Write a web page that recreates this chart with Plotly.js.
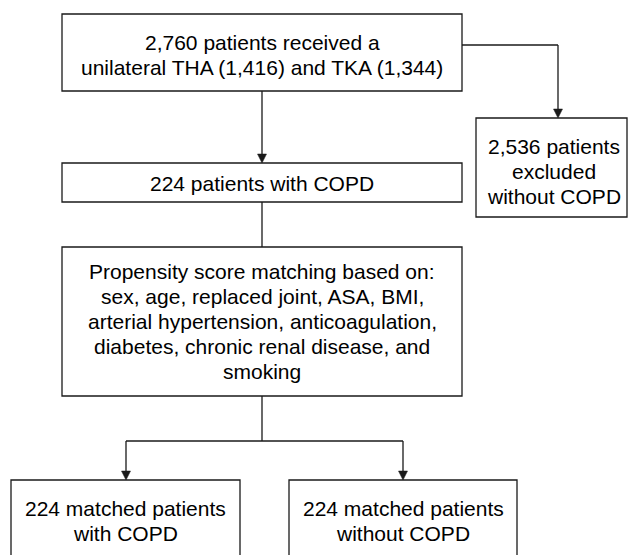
<!DOCTYPE html>
<html>
<head>
<meta charset="utf-8">
<script src="https://cdn.plot.ly/plotly-3.0.1.min.js"></script>
<style>
  html, body { margin: 0; padding: 0; background: #ffffff; }
  #chart { width: 628px; height: 555px; }
</style>
</head>
<body>
<div id="chart"></div>
<script>
// ---- Flowchart text (data) ----
const enrolledLines = ["2,760 patients received a", "unilateral THA (1,416) and TKA (1,344)"];
const copdLines = ["224 patients with COPD"];
const excludedLines = ["2,536 patients", "excluded", "without COPD"];
const matchingLines = [
  "Propensity score matching based on:",
  "sex, age, replaced joint, ASA, BMI,",
  "arterial hypertension, anticoagulation,",
  "diabetes, chronic renal disease, and",
  "smoking"
];
const matchedCopdLines = ["224 matched patients", "with COPD"];
const matchedNoCopdLines = ["224 matched patients", "without COPD"];

// ---- Layout geometry (pixel-like coordinates) ----
const boxes = [
  {lines: enrolledLines,     x0: 62,  x1: 462, y0: 14,  y1: 91,  cx: 262,   cy: 54.5},
  {lines: copdLines,         x0: 62,  x1: 462, y0: 163, y1: 202, cx: 262,   cy: 183},
  {lines: excludedLines,     x0: 476, x1: 627, y0: 118, y1: 217, cx: 553.5, cy: 171},
  {lines: matchingLines,     x0: 62,  x1: 462, y0: 247, y1: 396, cx: 262,   cy: 321.5},
  {lines: matchedCopdLines,  x0: 11,  x1: 240, y0: 480, y1: 570, cx: 125.5, cy: 520.5},
  {lines: matchedNoCopdLines,x0: 289, x1: 517, y0: 480, y1: 570, cx: 403,   cy: 520.5}
];
const lineGap = 25;
const strokeColor = "#1a1a1a";
const strokeW = 1.3;

const shapes = [];
const annotations = [];

boxes.forEach(b => {
  shapes.push({type: "rect", xref: "x", yref: "y", x0: b.x0, x1: b.x1, y0: b.y0, y1: b.y1,
    line: {color: strokeColor, width: strokeW}, fillcolor: "rgba(0,0,0,0)"});
  const n = b.lines.length;
  b.lines.forEach((t, i) => {
    annotations.push({xref: "x", yref: "y", x: b.cx, y: b.cy + (i - (n - 1) / 2) * lineGap,
      text: t, showarrow: false, xanchor: "center", yanchor: "middle",
      font: {family: "Liberation Sans, Arial, sans-serif", size: 21, color: "#000000"}});
  });
});

function seg(x0, y0, x1, y1) {
  shapes.push({type: "line", xref: "x", yref: "y", x0: x0, y0: y0, x1: x1, y1: y1,
    line: {color: strokeColor, width: strokeW}});
}
function arrowHead(x, yTip) {
  shapes.push({type: "path", xref: "x", yref: "y",
    path: `M ${x - 4.5},${yTip - 9} L ${x + 4.5},${yTip - 9} L ${x},${yTip} Z`,
    fillcolor: strokeColor, line: {color: strokeColor, width: 0.5}});
}

// enrolled -> COPD
seg(262, 91, 262, 156); arrowHead(262, 163);
// enrolled -> excluded
seg(462, 45, 558, 45); seg(558, 45, 558, 110); arrowHead(558, 118);
// COPD -> matching
seg(262, 202, 262, 247);
// matching -> split
seg(262, 396, 262, 441);
seg(126, 441, 403, 441);
seg(126, 441, 126, 472); arrowHead(126, 480);
seg(403, 441, 403, 472); arrowHead(403, 480);

const layout = {
  width: 628, height: 555,
  margin: {l: 0, r: 0, t: 0, b: 0},
  paper_bgcolor: "#ffffff", plot_bgcolor: "#ffffff",
  xaxis: {range: [0, 628], visible: false, fixedrange: true},
  yaxis: {range: [555, 0], visible: false, fixedrange: true},
  showlegend: false,
  shapes: shapes,
  annotations: annotations
};

Plotly.newPlot("chart", [{x: [], y: [], type: "scatter", mode: "markers", hoverinfo: "skip"}], layout,
  {displayModeBar: false, staticPlot: true});
</script>
</body>
</html>
